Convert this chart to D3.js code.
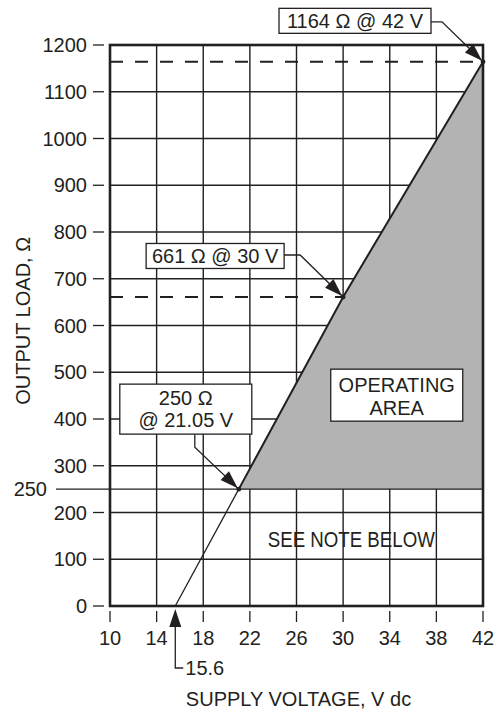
<!DOCTYPE html>
<html>
<head>
<meta charset="utf-8">
<script src="https://cdn.jsdelivr.net/npm/d3@7"></script>
<style>
  body { margin: 0; background: #fff; }
  svg { display: block; }
  text { font-family: "Liberation Sans", Arial, Helvetica, sans-serif; fill: #231f20; }
</style>
</head>
<body>
<svg id="chart" width="495" height="715"></svg>
<script>
// supply voltage (V dc) vs. max output load (ohm)
const voltage = [15.6, 21.05, 30, 42]
const load = [0, 250, 661, 1164]

const xTicks = [10, 14, 18, 22, 26, 30, 34, 38, 42]
const yTicks = [0, 100, 200, 300, 400, 500, 600, 700, 800, 900, 1000, 1100, 1200]
const minLoad = 250

const callouts = [
  { v: 42, r: 1164, lines: ['1164 Ω @ 42 V'] },
  { v: 30, r: 661, lines: ['661 Ω @ 30 V'] },
  { v: 21.05, r: 250, lines: ['250 Ω', '@ 21.05 V'] },
]

const ink = '#231f20'
const fs = 20
const svg = d3.select('#chart')

const x = d3.scaleLinear().domain([10, 42]).range([110, 483])
const y = d3.scaleLinear().domain([0, 1200]).range([606, 45])

const points = voltage.map((v, i) => [v, load[i]])

// grid
svg.append('g')
  .selectAll('line.v')
  .data(xTicks.slice(1, -1))
  .join('line')
  .attr('x1', d => x(d)).attr('x2', d => x(d))
  .attr('y1', y(0)).attr('y2', y(1200))
  .attr('stroke', ink).attr('stroke-width', 1.4)

svg.append('g')
  .selectAll('line.h')
  .data(yTicks.slice(1, -1))
  .join('line')
  .attr('x1', x(10)).attr('x2', x(42))
  .attr('y1', d => y(d)).attr('y2', d => y(d))
  .attr('stroke', ink).attr('stroke-width', 1.4)

// operating area
const area = points.filter(p => p[1] >= minLoad)
area.push([42, minLoad])
svg.append('path')
  .attr('d', d3.line().x(d => x(d[0])).y(d => y(d[1]))(area) + 'Z')
  .attr('fill', '#b3b3b3')

// 250 ohm minimum line, extends left of the axis
svg.append('line')
  .attr('x1', 56).attr('x2', x(42))
  .attr('y1', y(minLoad)).attr('y2', y(minLoad))
  .attr('stroke', ink).attr('stroke-width', 1.4)
svg.append('text')
  .attr('x', 47).attr('y', y(minLoad)).attr('dy', '0.36em')
  .attr('text-anchor', 'end').attr('font-size', fs)
  .text(minLoad)

// dashed reference lines
callouts.slice(0, 2).forEach(c => {
  svg.append('line')
    .attr('x1', x(10)).attr('x2', x(c.v))
    .attr('y1', y(c.r)).attr('y2', y(c.r))
    .attr('stroke', ink).attr('stroke-width', 2)
    .attr('stroke-dasharray', '13,12')
})

// load line
const line = d3.line().x(d => x(d[0])).y(d => y(d[1]))
svg.append('path')
  .attr('d', line(points.slice(0, 2)))
  .attr('fill', 'none').attr('stroke', ink).attr('stroke-width', 1.3)
svg.append('path')
  .attr('d', line(points.slice(1)))
  .attr('fill', 'none').attr('stroke', ink).attr('stroke-width', 2)

svg.append('g')
  .selectAll('circle')
  .data(points.slice(1))
  .join('circle')
  .attr('cx', d => x(d[0])).attr('cy', d => y(d[1]))
  .attr('r', 2.4).attr('fill', ink)

// frame
svg.append('rect')
  .attr('x', x(10)).attr('y', y(1200))
  .attr('width', x(42) - x(10)).attr('height', y(0) - y(1200))
  .attr('fill', 'none').attr('stroke', ink).attr('stroke-width', 2.6)

// y axis ticks + labels
const yAxis = svg.append('g')
yAxis.selectAll('line')
  .data(yTicks)
  .join('line')
  .attr('x1', 93).attr('x2', 104)
  .attr('y1', d => y(d)).attr('y2', d => y(d))
  .attr('stroke', ink).attr('stroke-width', 1.3)
yAxis.selectAll('text')
  .data(yTicks)
  .join('text')
  .attr('x', 87).attr('y', d => y(d)).attr('dy', '0.36em')
  .attr('text-anchor', 'end').attr('font-size', fs)
  .text(d => d)

// x axis ticks + labels
const xAxis = svg.append('g')
xAxis.selectAll('line')
  .data(xTicks)
  .join('line')
  .attr('x1', d => x(d)).attr('x2', d => x(d))
  .attr('y1', 611).attr('y2', 622)
  .attr('stroke', ink).attr('stroke-width', 1.3)
xAxis.selectAll('text')
  .data(xTicks)
  .join('text')
  .attr('x', d => x(d)).attr('y', 645)
  .attr('text-anchor', 'middle').attr('font-size', fs)
  .text(d => d)

// axis titles
svg.append('text')
  .attr('x', x(26) + 2).attr('y', 706)
  .attr('text-anchor', 'middle').attr('font-size', fs)
  .text('SUPPLY VOLTAGE, V dc')
svg.append('text')
  .attr('transform', `translate(30,${ y(610) }) rotate(-90)`)
  .attr('text-anchor', 'middle').attr('font-size', fs)
  .text('OUTPUT LOAD, Ω')

// arrowheads
const arrowHead = (tip, from) => {
  const a = Math.atan2(tip[1] - from[1], tip[0] - from[0])
  const len = 18, half = 6
  const bx = tip[0] - len * Math.cos(a), by = tip[1] - len * Math.sin(a)
  const px = -Math.sin(a) * half, py = Math.cos(a) * half
  svg.append('path')
    .attr('d', `M${ tip[0] },${ tip[1] }L${ bx + px },${ by + py }L${ bx - px },${ by - py }Z`)
    .attr('fill', ink)
}

// callout boxes: box center offset from point, box size, leader elbow offset
const layout = [
  { dx: -128, dy: -41, w: 152, h: 25, elbow: [-41, -40], from: 'right' },
  { dx: -128, dy: -41, w: 138, h: 25, elbow: [-43, -42], from: 'right' },
  { dx: -53, dy: -80, w: 132, h: 50, elbow: [-44, -42], from: 'bottom' },
]

callouts.forEach((c, i) => {
  const L = layout[i]
  const px = x(c.v), py = y(c.r)
  const cx = px + L.dx, cy = py + L.dy
  const ex = px + L.elbow[0], ey = py + L.elbow[1]
  const start = L.from === 'right' ? [cx + L.w / 2, ey] : [ex, cy + L.h / 2]
  svg.append('path')
    .attr('d', `M${ start[0] },${ start[1] }L${ ex },${ ey }L${ px },${ py }`)
    .attr('fill', 'none').attr('stroke', ink).attr('stroke-width', 1.3)
  arrowHead([px - 1, py - 1], [ex, ey])
  svg.append('rect')
    .attr('x', cx - L.w / 2).attr('y', cy - L.h / 2)
    .attr('width', L.w).attr('height', L.h)
    .attr('fill', '#fff').attr('stroke', ink).attr('stroke-width', 1.3)
  const t = svg.append('text')
    .attr('text-anchor', 'middle').attr('font-size', fs)
  c.lines.forEach((s, j) => {
    t.append('tspan')
      .attr('x', cx)
      .attr('y', cy + 7 + (j - (c.lines.length - 1) / 2) * 22.5)
      .text(s)
  })
})

// 15.6 V intercept marker
const x0 = x(voltage[0])
svg.append('path')
  .attr('d', `M${ x0 },627L${ x0 },668L${ x0 + 8 },668`)
  .attr('fill', 'none').attr('stroke', ink).attr('stroke-width', 1.3)
arrowHead([x0, 609], [x0, 640])
svg.append('text')
  .attr('x', x0 + 10).attr('y', 675)
  .attr('font-size', fs)
  .text(voltage[0])

// operating area label
const op = { cx: x(34.6), cy: y(451), w: 132, h: 52 }
svg.append('rect')
  .attr('x', op.cx - op.w / 2).attr('y', op.cy - op.h / 2)
  .attr('width', op.w).attr('height', op.h)
  .attr('fill', '#fff').attr('stroke', ink).attr('stroke-width', 1.3)
svg.append('text')
  .attr('text-anchor', 'middle').attr('font-size', fs)
  .selectAll('tspan')
  .data(['OPERATING', 'AREA'])
  .join('tspan')
  .attr('x', op.cx)
  .attr('y', (d, i) => op.cy - 3 + i * 22.5)
  .text(d => d)

svg.append('text')
  .attr('x', x(30.7)).attr('y', y(126))
  .attr('text-anchor', 'middle')
  .attr('font-family', '"Open Sans", "Noto Sans", sans-serif')
  .attr('font-size', 22)
  .attr('textLength', 167).attr('lengthAdjust', 'spacingAndGlyphs')
  .text('SEE NOTE BELOW')
</script>
</body>
</html>
